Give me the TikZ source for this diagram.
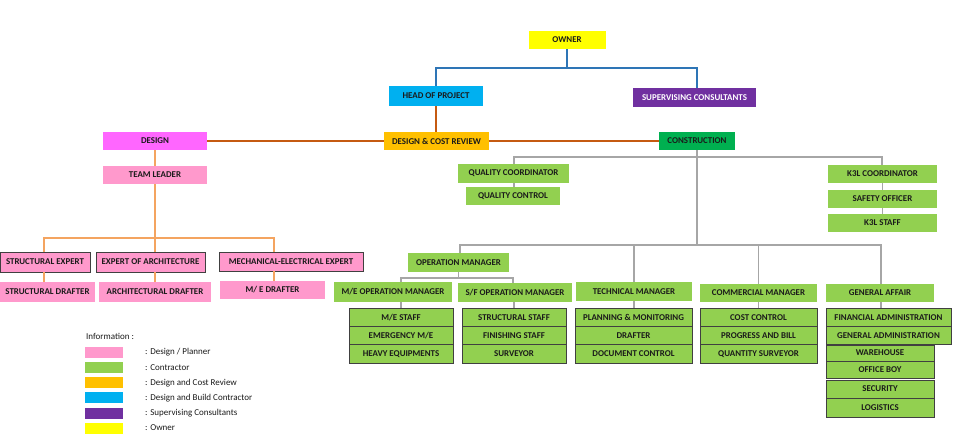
\documentclass[tikz,border=0pt]{standalone}
\usepackage{fontspec}
\setmainfont{Carlito}
\definecolor{cgreen}{HTML}{92D050}
\definecolor{cdgreen}{HTML}{00B050}
\definecolor{cpink}{HTML}{FF99CC}
\definecolor{cmagenta}{HTML}{FF66FF}
\definecolor{corange}{HTML}{FFC000}
\definecolor{cblue}{HTML}{00B0F0}
\definecolor{cpurple}{HTML}{7030A0}
\definecolor{cyellow}{HTML}{FFFF00}
\definecolor{lblue}{HTML}{2E75B6}
\definecolor{lbrown}{HTML}{C55A11}
\definecolor{lorange}{HTML}{F4A460}
\definecolor{lgray}{HTML}{A6A6A6}
\definecolor{ctext}{HTML}{1A1A1A}
\tikzset{
  box/.style={inner sep=0pt, text=ctext, font=\bfseries\fontsize{8.9}{9}\selectfont},
  framed/.style={box, draw=black!75, line width=0.9pt},
  bluewire/.style={draw=lblue, line width=1.2pt},
  brownwire/.style={draw=lbrown, line width=1.2pt},
  orangewire/.style={draw=lorange, line width=1.2pt},
  graywire/.style={draw=lgray, line width=1.2pt},
  swatch/.style={minimum width=38pt, minimum height=11pt, inner sep=0pt},
  legtext/.style={anchor=west, inner sep=0pt, text=ctext, font=\fontsize{9}{10}\selectfont},
}
\begin{document}
\begin{tikzpicture}[x=1pt,y=-1pt]
\useasboundingbox[fill=white] (0,0) rectangle (958,442);

% top management
\node[box, fill=cyellow, minimum width=77, minimum height=18] (owner) at (567,40) {OWNER};
\node[box, fill=cblue, minimum width=94, minimum height=20] (hop) at (436,96) {HEAD OF PROJECT};
\node[box, fill=cpurple, text=white, minimum width=123, minimum height=19] (sup) at (694.5,97.5) {SUPERVISING CONSULTANTS};
\node[box, fill=corange, minimum width=105, minimum height=18] (dcr) at (436.5,141) {DESIGN \& COST REVIEW};
\node[box, fill=cmagenta, minimum width=104, minimum height=18] (design) at (155,141) {DESIGN};
\node[box, fill=cdgreen, minimum width=76, minimum height=18] (cons) at (697,141) {CONSTRUCTION};

% design branch
\node[box, fill=cpink, minimum width=104, minimum height=18] (tl) at (155,175) {TEAM LEADER};
\node[framed, fill=cpink, minimum width=90, minimum height=20] (se) at (45,262) {STRUCTURAL EXPERT};
\node[framed, fill=cpink, minimum width=109, minimum height=20] (ea) at (150.5,262) {EXPERT OF ARCHITECTURE};
\node[framed, fill=cpink, minimum width=144, minimum height=19] (mee) at (291,261.5) {MECHANICAL-ELECTRICAL EXPERT};
\node[box, fill=cpink, minimum width=95, minimum height=20] (sd) at (47.5,292) {STRUCTURAL DRAFTER};
\node[box, fill=cpink, minimum width=112, minimum height=20] (ad) at (155,292) {ARCHITECTURAL DRAFTER};
\node[box, fill=cpink, minimum width=105, minimum height=18] (med) at (272.5,290) {M/ E DRAFTER};

% construction branch: quality and K3L
\node[box, fill=cgreen, minimum width=111, minimum height=19] (qc) at (513.5,173.5) {QUALITY COORDINATOR};
\node[box, fill=cgreen, minimum width=94, minimum height=18] (qctl) at (513,196) {QUALITY CONTROL};
\node[box, fill=cgreen, minimum width=109, minimum height=18] (k3c) at (882.5,174) {K3L COORDINATOR};
\node[box, fill=cgreen, minimum width=109, minimum height=18] (so) at (882.5,199) {SAFETY OFFICER};
\node[box, fill=cgreen, minimum width=109, minimum height=18] (k3s) at (882.5,223) {K3L STAFF};

% managers
\node[box, fill=cgreen, minimum width=101, minimum height=19] (om) at (458.5,262.5) {OPERATION MANAGER};
\node[box, fill=cgreen, minimum width=118, minimum height=20] (meom) at (393,292) {M/E OPERATION MANAGER};
\node[box, fill=cgreen, minimum width=114, minimum height=19] (sfom) at (515,292.5) {S/F OPERATION MANAGER};
\node[box, fill=cgreen, minimum width=116, minimum height=19] (tm) at (634,291.5) {TECHNICAL MANAGER};
\node[box, fill=cgreen, minimum width=117, minimum height=18] (cm) at (758.5,293) {COMMERCIAL MANAGER};
\node[box, fill=cgreen, minimum width=108, minimum height=18] (ga) at (880,293) {GENERAL AFFAIR};

% staff tables
\begin{scope}[every node/.append style={framed, fill=cgreen, minimum height=18.3}]
\node[minimum width=104] (me1) at (401,317.2) {M/E STAFF};
\node[minimum width=104] (me2) at (401,335.5) {EMERGENCY M/E};
\node[minimum width=104] (me3) at (401,353.8) {HEAVY EQUIPMENTS};
\node[minimum width=104] (sf1) at (514,317.2) {STRUCTURAL STAFF};
\node[minimum width=104] (sf2) at (514,335.5) {FINISHING STAFF};
\node[minimum width=104] (sf3) at (514,353.8) {SURVEYOR};
\node[minimum width=117] (tc1) at (633.5,317.2) {PLANNING \& MONITORING};
\node[minimum width=117] (tc2) at (633.5,335.5) {DRAFTER};
\node[minimum width=117] (tc3) at (633.5,353.8) {DOCUMENT CONTROL};
\node[minimum width=117] (co1) at (758.5,317.2) {COST CONTROL};
\node[minimum width=117] (co2) at (758.5,335.5) {PROGRESS AND BILL};
\node[minimum width=117] (co3) at (758.5,353.8) {QUANTITY SURVEYOR};
\node[minimum width=125] (ga1) at (888.5,317.2) {FINANCIAL ADMINISTRATION};
\node[minimum width=125] (ga2) at (888.5,335.5) {GENERAL ADMINISTRATION};
\node[minimum width=108, minimum height=16] (ga3) at (880,353) {WAREHOUSE};
\node[minimum width=108, minimum height=17] (ga4) at (880,369.5) {OFFICE BOY};
\node[minimum width=108, minimum height=18] (ga5) at (880,389) {SECURITY};
\node[minimum width=108, minimum height=19] (ga6) at (880,407.5) {LOGISTICS};
\end{scope}

% bus junctions
\coordinate (ownj) at (567,68);
\coordinate (dj) at (155,238);
\coordinate (cj) at (697,157);
\coordinate (oj) at (697,245);
\coordinate (mj) at (458.5,278);

% owner level
\draw[bluewire] (owner.south) -- (ownj);
\draw[bluewire] (hop.north) |- (ownj) -| ([xshift=2.5]sup.north);
\draw[brownwire] (hop.south) -- (dcr.north -| hop.south);
\draw[brownwire] (design.east) -- (dcr.west);
\draw[brownwire] (dcr.east) -- (cons.west);

% design connectors
\draw[orangewire] (design.south) -- (tl.north);
\draw[orangewire] (tl.south) -- (tl.south |- ea.north);
\draw[orangewire] ([xshift=-1]se.north) |- (dj) -| ([xshift=-17]mee.north);
\draw[orangewire] ([xshift=-1]se.south) -- ([xshift=-1]se.south |- sd.north);
\draw[orangewire] (ad.north) -- (ad.north |- ea.south);
\draw[orangewire] ([xshift=-17]mee.south) -- ([xshift=-17]mee.south |- med.north);

% construction connectors
\draw[graywire] ([xshift=0.5]qc.north) |- (cj) -| ([xshift=-0.5]k3c.north);
\draw[graywire] (cons.south) -- (oj);
\draw[graywire] ([xshift=1.5]om.north) |- (oj);
\draw[graywire] (tm.north) |- (oj);
\draw[graywire] (cm.north) |- (oj);
\draw[graywire] ([xshift=1]ga.north) |- (oj);
\draw[graywire] ([xshift=0.5]qc.south) -- ([xshift=0.5]qc.south |- qctl.north);
\draw[graywire] (k3c.south) -- (so.north);
\draw[graywire] (so.south) -- (k3s.north);
\draw[graywire] (om.south) -- (mj);
\draw[graywire] ([xshift=8]meom.north) |- (mj) -| ([xshift=-2]sfom.north);
\draw[graywire] ([xshift=8]meom.south) -- (me1.north);
\draw[graywire] ([xshift=-1]sfom.south) -- (sf1.north);
\draw[graywire] (tm.south) -- (tc1.north -| tm.south);
\draw[graywire] (cm.south) -- (co1.north);
\draw[graywire] ([xshift=1]ga.south) -- ([xshift=1]ga.south |- ga1.north);

% legend
\node[legtext] (info) at (86,336) {Information :};
\node[swatch, fill=cpink] (sw1) at (104,352) {};
\node[swatch, fill=cgreen] (sw2) at (104,367.5) {};
\node[swatch, fill=corange] (sw3) at (104,382.5) {};
\node[swatch, fill=cblue] (sw4) at (104,397.5) {};
\node[swatch, fill=cpurple] (sw5) at (104,413) {};
\node[swatch, fill=cyellow] (sw6) at (104,428) {};
\node[legtext] (lt1) at (145,352) {: Design / Planner};
\node[legtext] (lt2) at (145,368) {: Contractor};
\node[legtext] (lt3) at (145,383) {: Design and Cost Review};
\node[legtext] (lt4) at (145,398) {: Design and Build Contractor};
\node[legtext] (lt5) at (145,413) {: Supervising Consultants};
\node[legtext] (lt6) at (145,428) {: Owner};
\end{tikzpicture}
\end{document}
